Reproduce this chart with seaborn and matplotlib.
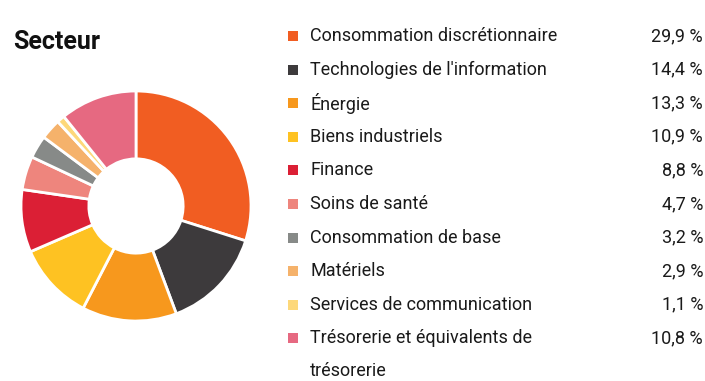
import matplotlib
matplotlib.use("Agg")
import matplotlib.pyplot as plt
from matplotlib.patches import Rectangle
import seaborn as sns

sns.set_style("white")
plt.rcParams["font.family"] = ["Roboto", "DejaVu Sans"]

categories = [
    "Consommation discrétionnaire",
    "Technologies de l'information",
    "Énergie",
    "Biens industriels",
    "Finance",
    "Soins de santé",
    "Consommation de base",
    "Matériels",
    "Services de communication",
    "Trésorerie et équivalents de\ntrésorerie",
]
values = [29.9, 14.4, 13.3, 10.9, 8.8, 4.7, 3.2, 2.9, 1.1, 10.8]
colors = ["#F15D22", "#3D3A3C", "#F7981D", "#FEC222", "#DB1F35",
          "#EE857D", "#878A88", "#F5B26B", "#FDD87A", "#E66981"]
title = "Secteur"

W, H = 705, 381
fig = plt.figure(figsize=(W / 100, H / 100), dpi=100)
fig.patch.set_facecolor("white")

# Donut
cx, cy, r = 136, 206, 115
ax = fig.add_axes([(cx - r) / W, (H - cy - r) / H, 2 * r / W, 2 * r / H])
ax.pie(values, colors=colors, startangle=90, counterclock=False, radius=1,
       wedgeprops=dict(width=0.59, edgecolor="white", linewidth=2))
ax.set_aspect("equal")
ax.set_xlim(-1.0, 1.0)
ax.set_ylim(-1.0, 1.0)
ax.axis("off")

# Legend/overlay axes in pixel coordinates
lax = fig.add_axes([0, 0, 1, 1])
lax.set_xlim(0, W)
lax.set_ylim(H, 0)
lax.axis("off")
lax.patch.set_alpha(0)

lax.text(13, 42, title, fontsize=18, fontweight="bold", color="#111111",
         va="center", ha="left")

row0, step = 36, 33.6
for i, (cat, val, col) in enumerate(zip(categories, values, colors)):
    y = row0 + i * step
    lax.add_patch(Rectangle((288, y - 5), 10, 10, facecolor=col, edgecolor="none"))
    lines = cat.split("\n")
    for j, line in enumerate(lines):
        lax.text(310, y + j * 33, line, fontsize=13, color="#1a1a1a",
                 va="center", ha="left")
    lax.text(703, y, f"{val:.1f}".replace(".", ",") + " %", fontsize=13,
             color="#1a1a1a", va="center", ha="right")

fig.savefig("out.png", dpi=100, facecolor="white")
